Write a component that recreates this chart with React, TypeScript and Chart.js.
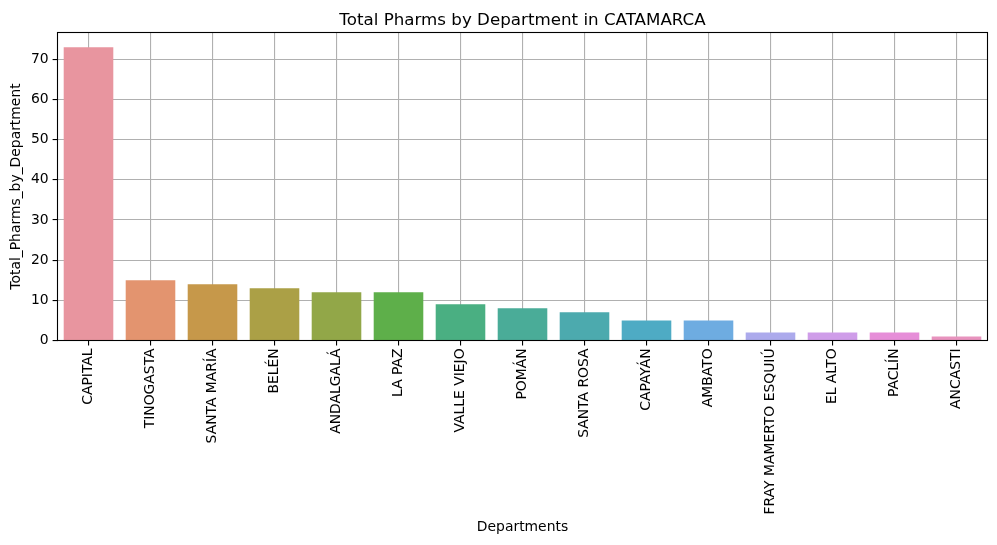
import React, { useEffect, useRef } from "react";
import { Chart, registerables } from "chart.js";

Chart.register(...registerables);

const categories = [
  "CAPITAL", "TINOGASTA", "SANTA MARÍA", "BELÉN", "ANDALGALÁ", "LA PAZ", "VALLE VIEJO",
  "POMÁN", "SANTA ROSA", "CAPAYÁN", "AMBATO", "FRAY MAMERTO ESQUIÚ", "EL ALTO", "PACLÍN", "ANCASTI",
];
const values = [73, 15, 14, 13, 12, 12, 9, 8, 7, 5, 5, 2, 2, 2, 1];
const barColors = [
  "#e8959f", "#e3946f", "#c6984a", "#aba046", "#92a748", "#5eaf4a", "#4aaf82",
  "#4aac98", "#4caaae", "#4eabc4", "#6eace1", "#acaaec", "#cf9de9", "#e68ed8", "#e893be",
];
const titleText = "Total Pharms by Department in CATAMARCA";
const xLabel = "Departments";
const yLabel = "Total_Pharms_by_Department";
const yMax = 76.65;

const FONT = "'DejaVu Sans', sans-serif";
const AREA = { left: 57.5, right: 987.5, top: 32.5, bottom: 340.5 };

const framePlugin = {
  id: "frameAndText",
  afterDraw(chart: any) {
    const ctx = chart.ctx;
    const a = chart.chartArea;
    ctx.save();
    ctx.strokeStyle = "#000";
    ctx.lineWidth = 1.1;
    ctx.strokeRect(a.left, a.top, a.right - a.left, a.bottom - a.top);
    ctx.fillStyle = "#000";
    ctx.textAlign = "center";
    ctx.textBaseline = "alphabetic";
    ctx.font = `16.7px ${FONT}`;
    ctx.fillText(titleText, (a.left + a.right) / 2, 24.5);
    ctx.font = `13.9px ${FONT}`;
    ctx.textBaseline = "middle";
    ctx.fillText(xLabel, (a.left + a.right) / 2, 527);
    ctx.translate(16, (a.top + a.bottom) / 2);
    ctx.rotate(-Math.PI / 2);
    ctx.fillText(yLabel, 0, 0);
    ctx.restore();
  },
};

export default function App() {
  const ref = useRef<HTMLCanvasElement>(null);
  useEffect(() => {
    document.body.style.margin = "0";
    const chart = new Chart(ref.current!, {
      type: "bar",
      data: {
        labels: categories,
        datasets: [
          {
            data: values,
            backgroundColor: barColors,
            borderWidth: 0,
            categoryPercentage: 0.8,
            barPercentage: 1,
          },
        ],
      },
      options: {
        animation: false,
        responsive: false,
        maintainAspectRatio: false,
        layout: { padding: { left: 0, right: 997 - AREA.right, top: AREA.top, bottom: 0 } },
        plugins: { legend: { display: false }, title: { display: false }, tooltip: { enabled: false } },
        scales: {
          x: {
            z: 1,
            offset: true,
            grid: { offset: false, color: "#b0b0b0", lineWidth: 1.1, tickLength: 4.9, tickColor: "#000", drawOnChartArea: true },
            border: { display: false },
            ticks: { color: "#000", font: { family: FONT, size: 13.9 }, minRotation: 90, maxRotation: 90, padding: 3, autoSkip: false },
            afterFit(scale: any) { scale.height = 545 - AREA.bottom; },
          },
          y: {
            z: 1,
            min: 0,
            max: yMax,
            grid: { color: "#b0b0b0", lineWidth: 1.1, tickLength: 4.9, tickColor: "#000" },
            border: { display: false },
            ticks: { stepSize: 10, includeBounds: false, color: "#000", font: { family: FONT, size: 13.9 }, padding: 4 },
            afterFit(scale: any) { scale.width = AREA.left; },
          },
        },
      },
      plugins: [framePlugin],
    } as any);
    return () => chart.destroy();
  }, []);
  return (
    <div style={{ width: 997, height: 545, background: "#fff" }}>
      <canvas ref={ref} width={997} height={545} style={{ display: "block" }} />
    </div>
  );
}
